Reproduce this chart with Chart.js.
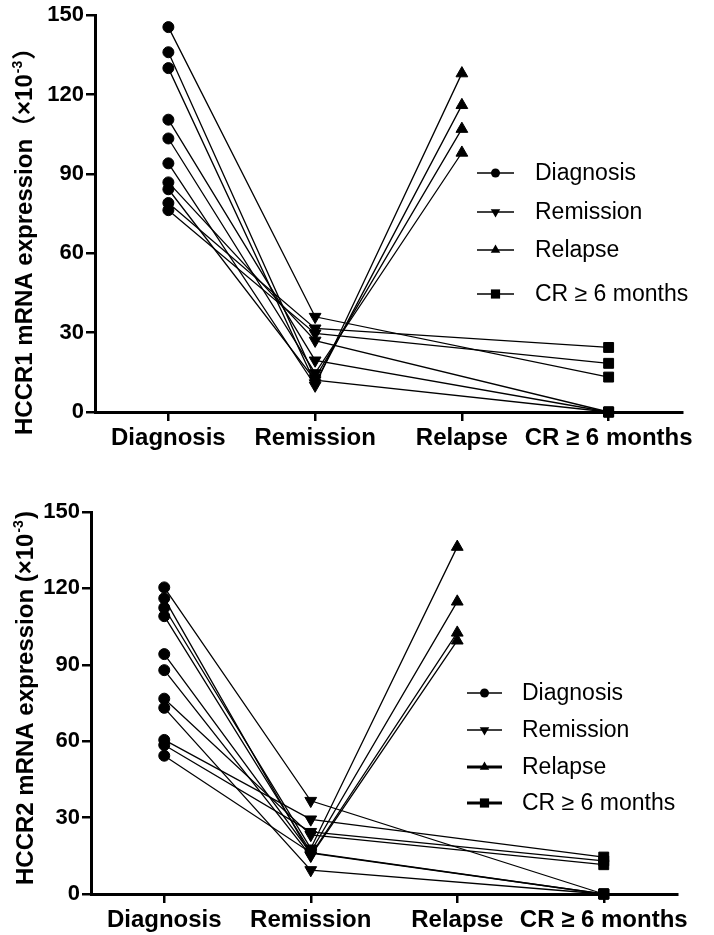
<!DOCTYPE html>
<html>
<head>
<meta charset="utf-8">
<script src="https://cdn.jsdelivr.net/npm/chart.js@4.4.1/dist/chart.umd.min.js"></script>
<style>
  html, body { margin: 0; padding: 0; background: #fff; }
  body { width: 714px; height: 935px; position: relative; overflow: hidden; }
  .panel { position: absolute; left: 0; width: 714px; }
  #panel-hccr1 { top: 0; height: 470px; }
  #panel-hccr2 { top: 470px; height: 465px; }
</style>
</head>
<body>
<div class="panel" id="panel-hccr1"><canvas id="chart-hccr1"></canvas></div>
<div class="panel" id="panel-hccr2"><canvas id="chart-hccr2"></canvas></div>
<script>
// Time points on the x axis
const categories = ['Diagnosis', 'Remission', 'Relapse', 'CR \u2265 6 months']
const yTicks = [0, 30, 60, 90, 120, 150]
const legendLabels = ['Diagnosis', 'Remission', 'Relapse', 'CR \u2265 6 months']

// HCCR1 (x10^-3), one entry per patient
const hccr1Diagnosis = [145.5, 136, 130, 110.5, 103.4, 94, 86.8, 84.2, 79, 76.3]
const hccr1Remission = [36, 12.8, 10.9, 19.5, 14.7, 10, 27, 12, 31.6, 29.7]
const hccr1FollowUp = [13.2, 107, 116, 0, 98, 128, 0, 0, 24.4, 18.4]
// 2 = Relapse, 3 = CR >= 6 months
const hccr1FollowUpStage = [3, 2, 2, 3, 2, 2, 3, 3, 3, 3]

// HCCR2 (x10^-3), one entry per patient
const hccr2Diagnosis = [120.4, 116.1, 112.4, 109.1, 94.2, 87.9, 76.7, 73.1, 60.5, 58.5, 54.3]
const hccr2Remission = [36.6, 15.3, 17.9, 16.6, 16, 15, 23.2, 9.4, 29.3, 24.4, 16.2]
const hccr2FollowUp = [0, 102.6, 136.3, 114.8, 0, 99.5, 11.5, 0, 14.5, 13, 0]
const hccr2FollowUpStage = [3, 2, 2, 2, 3, 2, 3, 3, 3, 3, 3]

const FONT = '"Liberation Sans", Arial, "Noto Sans CJK SC", sans-serif'

/**
 * Small marker painter for the legend samples.
 */
function drawMarker(ctx, style, x, y, r) {
  ctx.beginPath()
  if (style === 'circle') {
    ctx.arc(x, y, r, 0, Math.PI * 2)
  } else if (style === 'down') {
    ctx.moveTo(x - r * 0.866, y - r / 2)
    ctx.lineTo(x + r * 0.866, y - r / 2)
    ctx.lineTo(x, y + r)
  } else if (style === 'up') {
    ctx.moveTo(x - r * 0.866, y + r / 2)
    ctx.lineTo(x + r * 0.866, y + r / 2)
    ctx.lineTo(x, y - r)
  } else {
    const s = r * 0.707
    ctx.rect(x - s, y - s, 2 * s, 2 * s)
  }
  ctx.closePath()
  ctx.fill()
}

const stageLegend = {
  id: 'stageLegend',
  afterDraw(chart, args, opts) {
    const { ctx } = chart
    const styles = ['circle', 'down', 'up', 'rect']
    const sizes = [4.5, 5.5, 5.5, 6.5]
    ctx.save()
    ctx.fillStyle = '#000'
    ctx.strokeStyle = '#000'
    legendLabels.forEach((label, i) => {
      const y = opts.rows[i]
      ctx.lineWidth = opts.lineWidths[i]
      ctx.beginPath()
      ctx.moveTo(opts.lineFrom, y)
      ctx.lineTo(opts.lineTo, y)
      ctx.stroke()
      drawMarker(ctx, styles[i], (opts.lineFrom + opts.lineTo) / 2, y, sizes[i])
      ctx.font = '23px ' + FONT
      ctx.textBaseline = 'middle'
      ctx.textAlign = 'left'
      ctx.fillText(label, opts.textX, y + 1)
    })
    ctx.restore()
  },
}

/**
 * Rotated y-axis title with a superscript exponent.
 */
const yTitle = {
  id: 'yTitle',
  afterDraw(chart, args, opts) {
    const { ctx } = chart
    const big = 'bold 24px ' + FONT
    const small = 'bold 14px ' + FONT
    ctx.save()
    ctx.translate(opts.x, opts.y)
    ctx.rotate(-Math.PI / 2)
    ctx.fillStyle = '#000'
    ctx.textAlign = 'left'
    ctx.textBaseline = 'alphabetic'
    let cx = 0
    ctx.font = big
    ctx.fillText(opts.main, cx, 0)
    cx += ctx.measureText(opts.main).width + 1
    ctx.font = small
    ctx.fillText(opts.sup, cx, -10)
    cx += ctx.measureText(opts.sup).width + 1
    ctx.font = big
    ctx.fillText(opts.close, cx, 0)
    ctx.restore()
  },
}

function buildDatasets(diagnosis, remission, followUp, followUpStage) {
  return diagnosis.map((d, i) => {
    const stage = followUpStage[i]
    return {
      data: [
        { x: 0, y: d },
        { x: 1, y: remission[i] },
        { x: stage, y: followUp[i] },
      ],
      borderColor: '#000',
      borderWidth: 1.3,
      backgroundColor: '#000',
      pointBackgroundColor: '#000',
      pointBorderColor: '#000',
      pointBorderWidth: 1,
      pointStyle: ['circle', 'triangle', stage === 2 ? 'triangle' : 'rect'],
      pointRotation: [0, 180, 0],
      pointRadius: [5.5, 6.8, stage === 2 ? 6.8 : 7],
      tension: 0,
      fill: false,
      clip: false,
    }
  })
}

function createPanel(canvasId, datasets, layout, legendOpts, titleOpts) {
  const ctx = document.getElementById(canvasId).getContext('2d')
  return new Chart(ctx, {
    type: 'line',
    data: { datasets },
    options: {
      responsive: true,
      maintainAspectRatio: false,
      animation: false,
      events: [],
      layout: { padding: { top: layout.top, right: layout.right, left: 0, bottom: 0 } },
      plugins: {
        legend: { display: false },
        tooltip: { enabled: false },
        stageLegend: legendOpts,
        yTitle: titleOpts,
      },
      scales: {
        x: {
          type: 'linear',
          min: -0.5,
          max: 3.5,
          afterBuildTicks: (scale) => {
            scale.ticks = categories.map((_, i) => ({ value: i }))
          },
          afterFit: (scale) => { scale.height = layout.xHeight },
          border: { display: true, color: '#000', width: 3 },
          grid: { display: true, drawOnChartArea: false, drawTicks: true, tickLength: 9, color: '#000', lineWidth: 2.5 },
          ticks: {
            autoSkip: false,
            maxRotation: 0,
            padding: 3,
            color: '#000',
            font: { family: FONT, size: 24, weight: 'bold' },
            callback: (v) => categories[v],
          },
        },
        y: {
          min: 0,
          max: 150,
          afterBuildTicks: (scale) => {
            scale.ticks = yTicks.map(v => ({ value: v }))
          },
          afterFit: (scale) => { scale.width = layout.yWidth },
          border: { display: true, color: '#000', width: 3 },
          grid: { display: true, drawOnChartArea: false, drawTicks: true, tickLength: 9, color: '#000', lineWidth: 2.5 },
          ticks: {
            padding: 2,
            color: '#000',
            font: { family: FONT, size: 22, weight: 'bold' },
          },
        },
      },
    },
    plugins: [stageLegend, yTitle],
  })
}

createPanel(
  'chart-hccr1',
  buildDatasets(hccr1Diagnosis, hccr1Remission, hccr1FollowUp, hccr1FollowUpStage),
  { top: 14, right: 32, yWidth: 95, xHeight: 58 },
  { rows: [173, 212, 250, 294], lineFrom: 477, lineTo: 514, textX: 535, lineWidths: [1.5, 1.5, 1.5, 1.5] },
  { x: 32, y: 435, main: 'HCCR1 mRNA expression\uFF08\u00D710', sup: '-3', close: '\uFF09' }
)

createPanel(
  'chart-hccr2',
  buildDatasets(hccr2Diagnosis, hccr2Remission, hccr2FollowUp, hccr2FollowUpStage),
  { top: 42, right: 37, yWidth: 91, xHeight: 41 },
  { rows: [223, 260, 297, 333], lineFrom: 467, lineTo: 502, textX: 522, lineWidths: [1.5, 1.5, 3, 3] },
  { x: 33, y: 415, main: 'HCCR2 mRNA expression (\u00D710', sup: '-3', close: ')' }
)
</script>
</body>
</html>
